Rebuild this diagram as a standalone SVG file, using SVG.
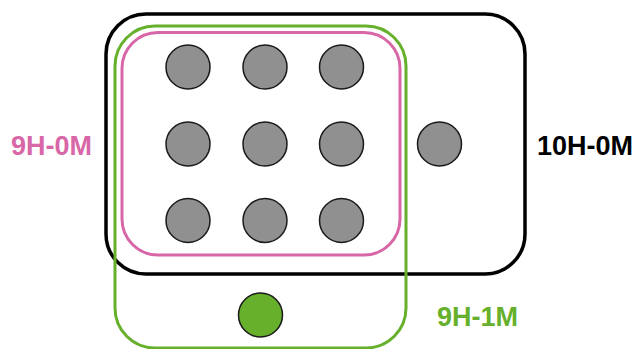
<svg xmlns="http://www.w3.org/2000/svg" width="643" height="349" viewBox="0 0 643 349">
<style>
.lbl{font-family:"Liberation Sans",Arial,sans-serif;font-weight:bold;font-size:27px}
.dot{fill:#909090;stroke:#1a1a1a;stroke-width:1.5}
.box{fill:none}
</style>
<rect width="643" height="349" fill="#fff"/>
<g id="set-10H-0M">
<rect class="box" x="106" y="14" width="419" height="260" rx="40" ry="40" stroke="#000" stroke-width="3.5"/>
<text class="lbl" x="537" y="155" fill="#000">10H-0M</text>
</g>
<g id="set-9H-1M">
<rect class="box" x="115" y="26" width="291" height="322" rx="40" ry="40" stroke="#66b02c" stroke-width="3"/>
<text class="lbl" x="437" y="326" fill="#66b02c">9H-1M</text>
</g>
<g id="set-9H-0M">
<rect class="box" x="122" y="32.5" width="278" height="222.5" rx="36" ry="36" stroke="#d867a8" stroke-width="3"/>
<text class="lbl" x="11" y="155" fill="#d867a8">9H-0M</text>
</g>
<g id="dots">
<circle class="dot" cx="188" cy="67" r="22"/>
<circle class="dot" cx="265" cy="67" r="22"/>
<circle class="dot" cx="341.5" cy="67" r="22"/>
<circle class="dot" cx="188" cy="144" r="22"/>
<circle class="dot" cx="265" cy="144" r="22"/>
<circle class="dot" cx="341.5" cy="144" r="22"/>
<circle class="dot" cx="188" cy="220.5" r="22"/>
<circle class="dot" cx="265" cy="220.5" r="22"/>
<circle class="dot" cx="341.5" cy="220.5" r="22"/>
<circle class="dot" cx="439.5" cy="144" r="22"/>
<circle id="green-dot" cx="260.5" cy="315" r="22" fill="#66b02c" stroke="#1a1a1a" stroke-width="1.5"/>
</g>
<g id="connectors"></g>
</svg>
